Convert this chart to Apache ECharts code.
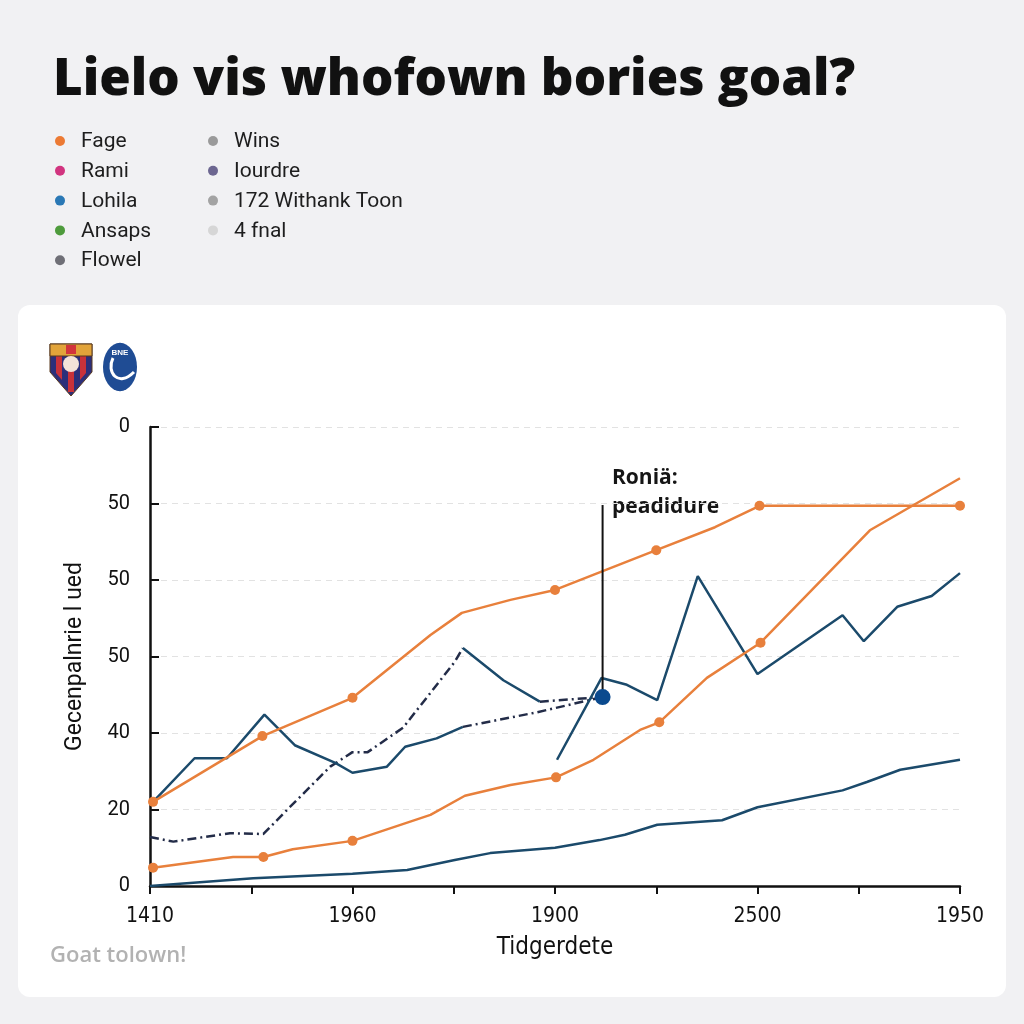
<!DOCTYPE html>
<html>
<head>
<meta charset="utf-8">
<title>Lielo vis whofown bories goal?</title>
<script src="https://cdn.jsdelivr.net/npm/echarts@6/dist/echarts.min.js"></script>
<style>
  html, body { margin: 0; padding: 0; background: #f1f1f3; }
  #chart { width: 1024px; height: 1024px; }
</style>
</head>
<body>
<div id="chart"></div>
<script>
// tick labels as printed (x: every second tick, y: bottom -> top)
const xTickLabels = ['1410', '1960', '1900', '2500', '1950']
const yTickLabels = ['0', '20', '40', '50', '50', '50', '0']

const legendNames = ['Fage', 'Rami', 'Lohila', 'Ansaps', 'Flowel', 'Wins', 'Iourdre', '172 Withank Toon', '4 fnal']
const legendColors = ['#ec7a34', '#d1347f', '#2a78b5', '#4e9b3c', '#6f6f76', '#9a9a9a', '#6c6690', '#a3a3a3', '#d6d6d6']

// values in tick units, [x, y]
const fageUpper = [[0.03, 1.10], [1.11, 1.96], [2.00, 2.46], [2.77, 3.28], [3.08, 3.57], [3.56, 3.74],
  [4.00, 3.87], [4.44, 4.10], [5.00, 4.39], [5.58, 4.69], [6.02, 4.97], [8.00, 4.97]]
const fageUpperMarks = [0, 1, 2, 6, 8, 10, 11]

const fageLower = [[0.03, 0.24], [0.82, 0.38], [1.12, 0.38], [1.41, 0.48], [2.00, 0.59], [2.77, 0.93],
  [3.11, 1.18], [3.56, 1.32], [4.01, 1.42], [4.38, 1.65], [4.84, 2.04], [5.03, 2.14], [5.50, 2.72],
  [6.03, 3.18], [7.11, 4.65], [8.00, 5.33]]
const fageLowerMarks = [0, 2, 4, 8, 11, 13]

const navyA = [[0.03, 1.10], [0.44, 1.67], [0.76, 1.67], [1.13, 2.24], [1.43, 1.84], [1.83, 1.61],
  [2.00, 1.48], [2.34, 1.56], [2.52, 1.82], [2.83, 1.93], [3.09, 2.08]]
const navyADash = [[3.09, 2.08], [3.82, 2.27], [4.47, 2.47]]
const navyBDash = [[0, 0.64], [0.23, 0.58], [0.79, 0.69], [1.12, 0.68], [1.35, 0.99], [1.78, 1.56],
  [2.00, 1.75], [2.15, 1.75], [2.50, 2.07], [3.01, 2.93], [3.09, 3.11]]
const navyB = [[3.09, 3.11], [3.49, 2.69], [3.85, 2.41]]
const navyBTail = [[3.85, 2.41], [4.47, 2.47]]
const navyC = [[4.02, 1.65], [4.46, 2.72], [4.71, 2.63], [5.01, 2.43], [5.41, 4.05], [6.00, 2.77],
  [6.84, 3.54], [7.05, 3.20], [7.38, 3.65], [7.72, 3.79], [8.00, 4.09]]
const navyLow = [[0, 0], [1.02, 0.10], [2.00, 0.16], [2.54, 0.21], [3.01, 0.34], [3.36, 0.43],
  [4.00, 0.50], [4.44, 0.60], [4.69, 0.67], [5.01, 0.80], [5.65, 0.86], [6.00, 1.03], [6.84, 1.25],
  [7.08, 1.36], [7.41, 1.52], [8.00, 1.65]]

const focusPoint = [[4.47, 2.47]]
const annotLine = [[4.47, 2.47], [4.47, 4.98]]
const annotText = ['Roniä:', 'peadidure']

const orange = '#e8803c'
const navy = '#1b4a6b'
const navyDash = '#232c48'
const dashDot = [9, 4, 2, 4]
const narrow = '"Liberation Sans Narrow", "DejaVu Sans Condensed", "Roboto Condensed", sans-serif'

const chart = echarts.init(document.getElementById('chart'))

function lineSeries(data, color, type, marks) {
  return {
    type: 'line',
    data: data,
    showAllSymbol: true,
    symbol: 'circle',
    symbolSize: (v, p) => (marks && marks.includes(p.dataIndex) ? 10 : 0),
    itemStyle: { color: color },
    lineStyle: { color: color, width: 2.5, type: type || 'solid' },
    silent: true,
    z: 3
  }
}

const legendGraphics = []
legendNames.forEach((name, i) => {
  const col = i < 5 ? 0 : 1
  const row = i < 5 ? i : i - 5
  const x = col === 0 ? 60 : 213
  const y = 141 + row * 29.8
  legendGraphics.push({ type: 'circle', shape: { cx: x, cy: y, r: 5 }, style: { fill: legendColors[i] } })
  legendGraphics.push({
    type: 'text', x: x + 21, y: y + 1,
    style: { text: name, fill: '#1e1e1e', font: '21px Roboto, sans-serif', textVerticalAlign: 'middle' }
  })
})

chart.setOption({
  animation: false,
  backgroundColor: '#f1f1f3',
  title: {
    text: 'Lielo vis whofown bories goal?',
    left: 48,
    top: 50,
    textStyle: { fontSize: 51, fontWeight: 800, fontFamily: '"Open Sans"', color: '#111' }
  },
  graphic: [
    { type: 'rect', shape: { x: 18, y: 305, width: 988, height: 692, r: 12 }, style: { fill: '#fff' }, z: -10 },
    // club badges
    { type: 'polygon', shape: { points: [[50, 344], [92, 344], [92, 372], [71, 396], [50, 372]] }, style: { fill: '#2c2f7a', stroke: '#5b3b1e', lineWidth: 1 } },
    { type: 'polygon', shape: { points: [[56, 356], [62, 356], [62, 380], [56, 373]] }, style: { fill: '#c8323a' } },
    { type: 'polygon', shape: { points: [[68, 356], [74, 356], [74, 392], [68, 392]] }, style: { fill: '#c8323a' } },
    { type: 'polygon', shape: { points: [[80, 356], [86, 356], [86, 373], [80, 380]] }, style: { fill: '#c8323a' } },
    { type: 'rect', shape: { x: 50, y: 344, width: 42, height: 12 }, style: { fill: '#e2a43a', stroke: '#5b3b1e', lineWidth: 1 } },
    { type: 'circle', shape: { cx: 71, cy: 364, r: 8 }, style: { fill: '#f3e3d8' } },
    { type: 'rect', shape: { x: 66, y: 345, width: 10, height: 9 }, style: { fill: '#d2343c' } },
    { type: 'circle', x: 120, y: 367, scaleY: 1.42, shape: { cx: 0, cy: 0, r: 17 }, style: { fill: '#1f4c94' } },
    { type: 'text', x: 120, y: 353, style: { text: 'BNE', fill: '#fff', font: 'bold 8px sans-serif', textAlign: 'center', textVerticalAlign: 'middle' } },
    { type: 'bezierCurve', shape: { x1: 113, y1: 358, cpx1: 106, cpy1: 372, cpx2: 118, cpy2: 388, x2: 134, y2: 372 }, style: { stroke: '#fff', lineWidth: 3, fill: null } },
    ...legendGraphics,
    {
      type: 'text', x: 612, y: 478,
      style: { text: annotText[0], fill: '#151515', font: 'bold 21px "Open Sans", sans-serif', textVerticalAlign: 'middle' }
    },
    {
      type: 'text', x: 612, y: 507,
      style: { text: annotText[1], fill: '#151515', font: 'bold 21px "Open Sans", sans-serif', textVerticalAlign: 'middle' }
    },
    {
      type: 'text', x: 50, y: 956,
      style: { text: 'Goat tolown!', fill: '#b2b2b2', font: '600 22px "Open Sans", sans-serif', textVerticalAlign: 'middle' }
    }
  ],
  grid: { left: 150, right: 64, top: 427, bottom: 138 },
  xAxis: {
    type: 'value',
    min: 0,
    max: 8,
    interval: 1,
    name: 'Tidgerdete',
    nameLocation: 'middle',
    nameGap: 50,
    nameTextStyle: { fontSize: 24, color: '#111', fontFamily: narrow },
    axisLine: { lineStyle: { color: '#111', width: 2.5 } },
    axisTick: { length: 8, lineStyle: { color: '#111', width: 2 } },
    axisLabel: {
      margin: 20,
      fontSize: 21,
      color: '#111',
      fontFamily: narrow,
      formatter: v => (v % 2 === 0 ? xTickLabels[v / 2] : '')
    },
    splitLine: { show: false }
  },
  yAxis: {
    type: 'value',
    min: 0,
    max: 6,
    interval: 1,
    name: 'Gecenpalnrie l ued',
    nameLocation: 'middle',
    nameGap: 63,
    nameTextStyle: { fontSize: 23, color: '#111', fontFamily: 'Roboto' },
    axisLine: { show: true, lineStyle: { color: '#111', width: 2.5 } },
    axisTick: { show: true, inside: true, length: 9, lineStyle: { color: '#111', width: 2 } },
    axisLabel: {
      margin: 20,
      fontSize: 20,
      color: '#111',
      fontFamily: 'Roboto',
      formatter: v => yTickLabels[v]
    },
    splitLine: { show: true, lineStyle: { color: '#e2e2e2', type: [6, 5], width: 1.2 } }
  },
  series: [
    lineSeries(navyLow, navy),
    lineSeries(navyBDash, navyDash, dashDot),
    lineSeries(navyA, navy),
    lineSeries(navyADash, navyDash, dashDot),
    lineSeries(navyB, navy),
    lineSeries(navyBTail, navyDash, dashDot),
    lineSeries(navyC, navy),
    lineSeries(fageLower, orange, 'solid', fageLowerMarks),
    lineSeries(fageUpper, orange, 'solid', fageUpperMarks),
    {
      type: 'line',
      data: annotLine,
      symbol: 'none',
      lineStyle: { color: '#111', width: 2 },
      silent: true,
      z: 4
    },
    {
      type: 'scatter',
      data: focusPoint,
      symbolSize: 16,
      itemStyle: { color: '#0b4a8e', opacity: 1 },
      silent: true,
      z: 5
    }
  ]
})
</script>
</body>
</html>
